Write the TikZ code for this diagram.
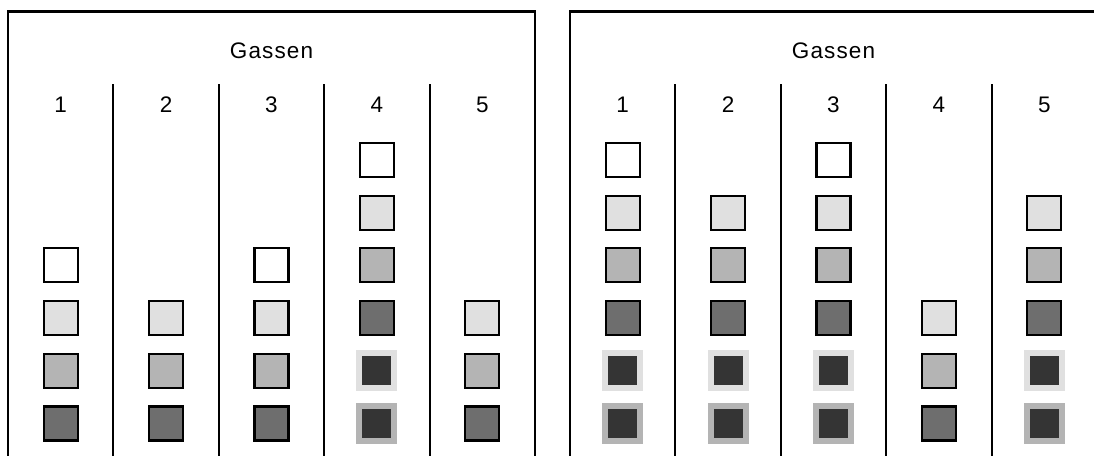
\documentclass[tikz,border=0pt]{standalone}
\usepackage{fontspec}
\setsansfont{Liberation Sans}
\newfontfamily\headfont[LetterSpace=5]{Liberation Sans}
\definecolor{clight}{HTML}{E0E0E0}
\definecolor{cmid}{HTML}{B4B4B4}
\definecolor{cdim}{HTML}{6E6E6E}
\definecolor{cdark}{HTML}{343434}
\tikzset{
  every picture/.style={font=\sffamily, line width=1.5pt},
  cell/.style={draw=black, fill=#1, minimum size=0.85cm, inner sep=0pt},
  halo/.style={draw=#1, fill=cdark, line width=0.15cm, minimum size=0.875cm, inner sep=0pt},
  wbox/.style={cell=white},
  lbox/.style={cell=clight},
  mbox/.style={cell=cmid},
  dbox/.style={cell=cdim},
  lhalo/.style={halo=clight},
  mhalo/.style={halo=cmid},
  head/.style={font=\headfont\fontsize{16}{18}\selectfont, inner sep=0pt},
}

\begin{document}
\begin{tikzpicture}[x=0.025cm, y=-0.025cm]
  \useasboundingbox (0,0) rectangle (1094,455);
  \clip (0,0) rectangle (1094,455);
  % the two panels
  \foreach \p/\x in {L/8, R/570} {
    \draw (\x,470) -- (\x,11.5) -- ++(527,0) -- ++(0,458.5);
    \node[head] (\p-title) at (\x+263.5,50.5) {Gassen};
    \foreach \c in {1,...,5}
      \node[head] (\p-num\c) at (\x+105.4*\c-52.7,105) {\c};
    \foreach \c in {1,...,4}
      \draw (\x+105.4*\c,84) -- (\x+105.4*\c,470);
  }
  % stacks, bottom to top
  \foreach \p/\c/\stack in {
      L/1/{dbox,mbox,lbox,wbox},
      L/2/{dbox,mbox,lbox},
      L/3/{dbox,mbox,lbox,wbox},
      L/4/{mhalo,lhalo,dbox,mbox,lbox,wbox},
      L/5/{dbox,mbox,lbox},
      R/1/{mhalo,lhalo,dbox,mbox,lbox,wbox},
      R/2/{mhalo,lhalo,dbox,mbox,lbox},
      R/3/{mhalo,lhalo,dbox,mbox,lbox,wbox},
      R/4/{dbox,mbox,lbox},
      R/5/{mhalo,lhalo,dbox,mbox,lbox}} {
    \foreach \s [count=\r] in \stack {
      \pgfmathsetmacro\y{476.2-52.7*\r}
      \node[\s] (\p-\c-\r) at (\p-num\c |- 0,\y) {};
    }
  }
\end{tikzpicture}
\end{document}
